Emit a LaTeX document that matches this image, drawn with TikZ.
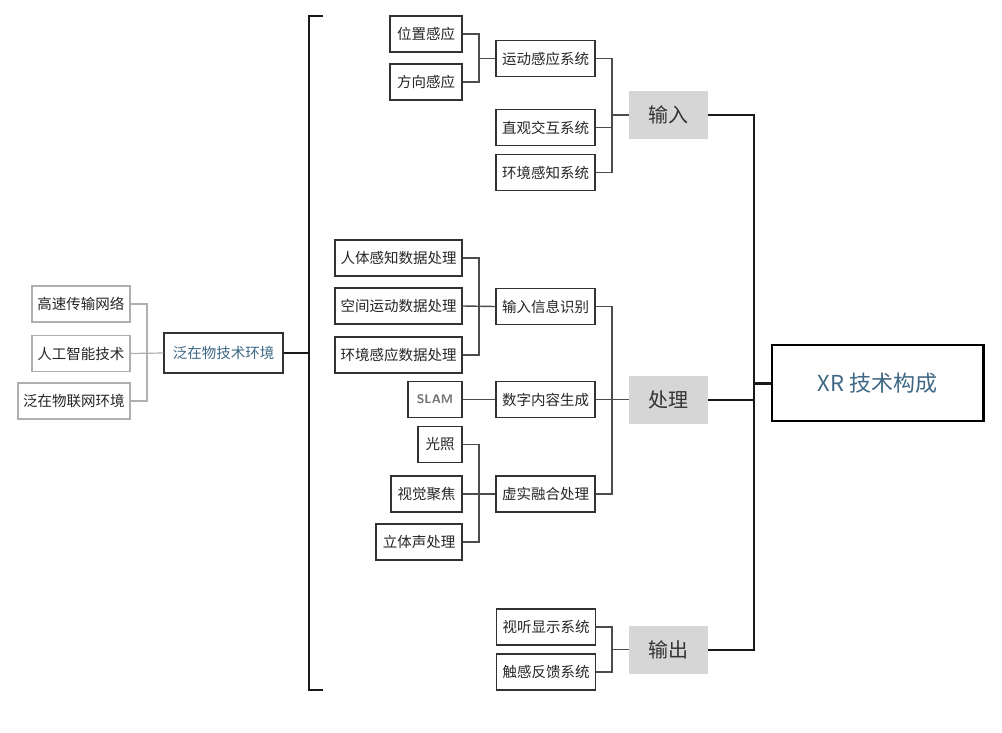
\documentclass[tikz,border=0pt]{standalone}
\usepackage{fontspec}
\usepackage{xcolor}
\usepackage{tikz}
\usetikzlibrary{positioning, calc}
\newfontfamily\cjk{Noto Sans CJK SC}
\definecolor{boxline}{RGB}{50, 50, 50}
\definecolor{softline}{RGB}{175, 175, 175}
\definecolor{stagefill}{RGB}{214, 214, 214}
\definecolor{tealtext}{RGB}{62, 104, 133}

\begin{document}
\begin{tikzpicture}[
    x=1pt, y=-1pt,
    cell/.style={rectangle, draw=boxline, line width=1.4pt, fill=white, minimum width=#1, minimum height=36pt, inner sep=0pt, font=\cjk\fontsize{14.5}{14.5}\selectfont, text=black!85},
    cell/.default=99pt,
    softcell/.style={cell=#1, draw=softline, line width=1.2pt},
    stage/.style={rectangle, fill=stagefill, minimum width=79pt, minimum height=48pt, inner sep=0pt, font=\cjk\fontsize{20}{20}\selectfont, text=black!80},
    link/.style={draw=black!70, line width=1.4pt},
    softlink/.style={draw=softline, line width=1.2pt},
    trunk/.style={draw=black!90, line width=2pt}
  ]

  \useasboundingbox (0,0) rectangle (1002,733);

  % Environment
  \node[softcell=98pt] (net) at (81,304) {高速传输网络};
  \node[softcell=98pt] (ai) at (81,353.5) {人工智能技术};
  \node[softcell=112pt] (iot) at (74,401) {泛在物联网环境};
  \node[cell=119pt, minimum height=40pt, text=tealtext] (env) at (223.5,353) {泛在物技术环境};

  % Input
  \node[cell=72pt] (pos) at (426,34) {位置感应};
  \node[cell=72pt] (dir) at (426,82) {方向感应};
  \node[cell] (motion) at (545.5,58.5) {运动感应系统};
  \node[cell] (direct) at (545.5,127.5) {直观交互系统};
  \node[cell] (sense) at (545.5,172.5) {环境感知系统};
  \node[stage] (in) at (668.5,115) {输入};

  % Processing
  \node[cell=127pt] (body) at (398.5,258) {人体感知数据处理};
  \node[cell=127pt] (space) at (398.5,306) {空间运动数据处理};
  \node[cell=127pt] (envdata) at (398.5,355) {环境感应数据处理};
  \node[cell] (recog) at (545.5,306.5) {输入信息识别};
  \node[cell=54pt, font=\sffamily\bfseries\fontsize{12.5}{12.5}\selectfont, text=black!55] (slam) at (435,399.5) {SLAM};
  \node[cell] (gen) at (545.5,399.5) {数字内容生成};
  \node[cell=44pt] (light) at (440,444.5) {光照};
  \node[cell=71pt] (focus) at (426.5,494) {视觉聚焦};
  \node[cell=86pt] (stereo) at (419,542) {立体声处理};
  \node[cell] (fuse) at (545.5,494) {虚实融合处理};
  \node[stage] (proc) at (668.5,399.5) {处理};

  % Output
  \node[cell] (av) at (546,627) {视听显示系统};
  \node[cell] (haptic) at (546,672) {触感反馈系统};
  \node[stage] (out) at (668.5,649.5) {输出};

  % Result
  \node[cell=211pt, minimum height=76pt, draw=black, line width=1.8pt, font=\cjk\fontsize{22}{22}\selectfont, text=tealtext] (xr) at (877.5,383) {XR 技术构成};
  \draw[line width=3.5pt, black] ([xshift=-0.5pt]xr.north east) -- ([xshift=-0.5pt]xr.south east);

  % Junctions
  \coordinate (jenv) at (147,353);
  \coordinate (brk) at (309,353);
  \coordinate (jpos) at (479,58.5);
  \coordinate (jin) at (612,115);
  \coordinate (jbody) at (479,306);
  \coordinate (jlight) at (479,494);
  \coordinate (jproc) at (612,399.5);
  \coordinate (jout) at (612,649.5);
  \coordinate (jxr) at (754,383);

  % Environment links
  \draw[softlink] (net.east) -| (jenv);
  \draw[softlink] (iot.east) -| (jenv);
  \draw[softlink] (ai.east) -- (env.west);
  \draw[trunk] (env.east) -- (brk);
  \draw[trunk] (323,16) -- (309,16) -- (309,690) -- (323,690);

  % Input links
  \draw[link] (pos.east) -| (jpos);
  \draw[link] (dir.east) -| (jpos);
  \draw[link] (jpos) -- (motion.west);
  \draw[link] (motion.east) -| (jin);
  \draw[link] (direct.east) -| (jin);
  \draw[link] (sense.east) -| (jin);
  \draw[link] (jin) -- (in.west);

  % Processing links
  \draw[link] (body.east) -| (jbody);
  \draw[link] (envdata.east) -| (jbody);
  \draw[link] (space.east) -- (recog.west);
  \draw[link] (slam.east) -- (gen.west);
  \draw[link] (light.east) -| (jlight);
  \draw[link] (stereo.east) -| (jlight);
  \draw[link] (focus.east) -- (fuse.west);
  \draw[link] (recog.east) -| (jproc);
  \draw[link] (fuse.east) -| (jproc);
  \draw[link] (gen.east) -- (proc.west);

  % Output links
  \draw[link] (av.east) -| (jout);
  \draw[link] (haptic.east) -| (jout);
  \draw[link] (jout) -- (out.west);

  % Trunk
  \draw[trunk] (in.east) -| (jxr);
  \draw[trunk] (out.east) -| (jxr);
  \draw[trunk] (proc.east) -- (proc.east -| jxr);
  \draw[trunk, line width=3pt] (jxr) -- (xr.west);

\end{tikzpicture}
\end{document}
